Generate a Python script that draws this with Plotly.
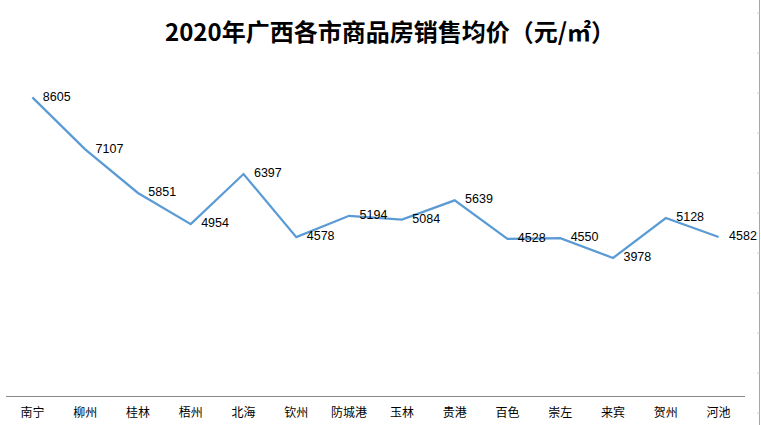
import plotly.graph_objects as go

cities = ["南宁", "柳州", "桂林", "梧州", "北海", "钦州", "防城港", "玉林", "贵港", "百色", "崇左", "来宾", "贺州", "河池"]
prices = [8605, 7107, 5851, 4954, 6397, 4578, 5194, 5084, 5639, 4528, 4550, 3978, 5128, 4582]
title_text = "2020年广西各市商品房销售均价（元/㎡）"

W, H = 761, 425
ml, mr, mt, mb = 6, 16, 49, 29

fig = go.Figure()
fig.add_trace(go.Scatter(
    x=cities, y=prices, mode="lines+text",
    line=dict(color="#5B9BD5", width=2.25),
    text=["   " + str(v) for v in prices], textposition="middle right",
    textfont=dict(family="Liberation Sans, Arial", size=12.5, color="#000000"),
    cliponaxis=False, hoverinfo="skip",
))

pw = W - ml - mr
def px2paper_x(px):
    return (px - ml) / pw
ph = H - mt - mb
def px2paper_y(py):
    return (H - mb - py) / ph

shapes = [dict(type="line", xref="paper", yref="paper",
               x0=px2paper_x(759.5), x1=px2paper_x(759.5), y0=px2paper_y(0), y1=px2paper_y(425),
               line=dict(color="#A6A6A6", width=1))]
for ty in range(13, 425, 40):
    shapes.append(dict(type="line", xref="paper", yref="paper",
                       x0=px2paper_x(757), x1=px2paper_x(759.5), y0=px2paper_y(ty), y1=px2paper_y(ty),
                       line=dict(color="#D0D0D0", width=1)))

fig.update_layout(
    width=W, height=H, autosize=False,
    margin=dict(l=ml, r=mr, t=mt, b=mb),
    paper_bgcolor="white", plot_bgcolor="white",
    showlegend=False,
    title=dict(text="<b>" + title_text + "</b>", x=390 / W, xref="container", xanchor="center",
               y=1 - 33 / H, yref="container", yanchor="middle",
               font=dict(family="Noto Sans CJK SC", size=24, color="#000000")),
    xaxis=dict(type="category", range=[-0.5, len(cities) - 0.5], autorange=False,
               showgrid=False, zeroline=False,
               showline=True, linecolor="#898989", linewidth=1,
               ticks="", tickfont=dict(family="Noto Sans CJK SC", size=12, color="#000000"),
               ticklabelstandoff=6),
    yaxis=dict(range=[0, 10000], visible=False, showgrid=False, zeroline=False),
    shapes=shapes,
)

fig.write_html("out.html")
